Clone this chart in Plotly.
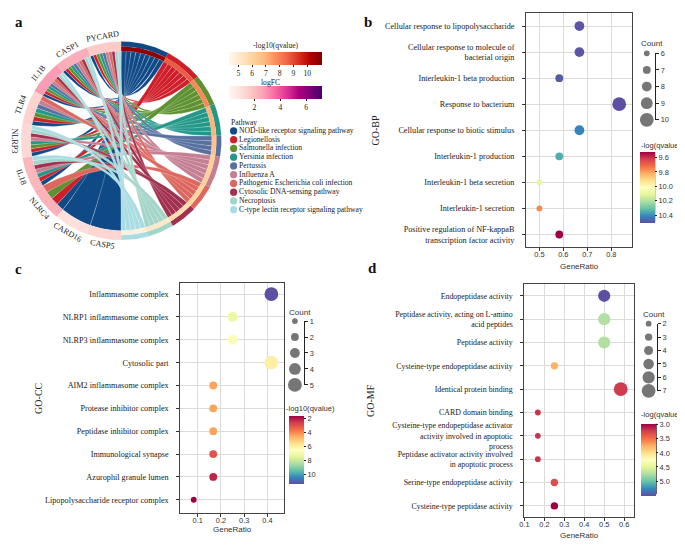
import numpy as np
import plotly.graph_objects as go
from plotly.colors import sample_colorscale

# The page body keeps the browser's default 8 px margin, so the figure is laid
# out in window pixels and shifted by that margin.
WIN_W, WIN_H = 685, 545
OFF = 8
W, H = WIN_W - OFF, WIN_H - OFF
SERIF = "Liberation Serif"
SANS = "Liberation Sans"

# ---------------- panel a data ----------------
genes = ["PYCARD", "CASP1", "IL1B", "TLR4", "NLRP3", "IL18", "NLRC4", "CARD16", "CASP5"]
gene_logfc = [1.6, 2.4, 2.8, 1.4, 1.2, 2.2, 2.3, 1.0, 1.3]
pathways = ["NOD-like receptor signaling pathway", "Legionellosis", "Salmonella infection",
            "Yersinia infection", "Pertussis", "Influenza A",
            "Pathogenic Escherichia coli infection", "Cytosolic DNA-sensing pathway",
            "Necroptosis", "C-type lectin receptor signaling pathway"]
pathway_colors = ["#0F4A87", "#CF1F2A", "#5E9131", "#23988A", "#58709F", "#C57F93",
                  "#DD675E", "#A2304F", "#A3D5C9", "#A9DCE3"]
pathway_qvalue = [10.8, 8.7, 7.8, 7.0, 6.6, 6.2, 6.0, 5.7, 5.2, 4.7]
pathway_genes = [
    ["PYCARD", "CASP1", "IL1B", "TLR4", "NLRP3", "IL18", "NLRC4", "CARD16", "CASP5"],
    ["PYCARD", "CASP1", "IL1B", "TLR4", "NLRP3", "IL18", "NLRC4"],
    ["PYCARD", "CASP1", "IL1B", "TLR4", "NLRP3", "NLRC4"],
    ["PYCARD", "CASP1", "IL1B", "TLR4", "NLRP3", "IL18"],
    ["PYCARD", "CASP1", "IL1B", "TLR4"],
    ["PYCARD", "CASP1", "IL1B", "TLR4", "NLRP3", "IL18"],
    ["PYCARD", "CASP1", "IL1B", "TLR4", "NLRC4"],
    ["PYCARD", "CASP1", "IL1B", "NLRP3", "IL18"],
    ["PYCARD", "CASP1", "IL1B", "NLRP3", "IL18"],
    ["PYCARD", "CASP1", "IL1B", "NLRP3", "IL18"],
]
q_range = [4.35, 11.1]
q_ticks = [5, 6, 7, 8, 9, 10]
fc_range = [0.06, 7.26]
fc_ticks = [2, 4, 6]

# ---------------- panel b data ----------------
bp_terms = ["Cellular response to lipopolysaccharide",
            "Cellular response to molecule of<br>bacterial origin",
            "Interleukin-1 beta production",
            "Response to bacterium",
            "Cellular response to biotic stimulus",
            "Interleukin-1 production",
            "Interleukin-1 beta secretion",
            "Interleukin-1 secretion",
            "Positive regulation of NF-kappaB<br>transcription factor activity"]
bp_ratio = [0.667, 0.667, 0.583, 0.833, 0.667, 0.583, 0.5, 0.5, 0.583]
bp_count = [8, 8, 7, 10, 8, 7, 6, 6, 7]
bp_q = [10.50, 10.50, 10.49, 10.51, 10.42, 10.35, 10.10, 9.76, 9.52]
bp_count_breaks = [6, 7, 8, 9, 10]
bp_q_ticks = [9.6, 9.8, 10.0, 10.2, 10.4]

# ---------------- panel c data ----------------
cc_terms = ["Inflammasome complex", "NLRP1 inflammasome complex", "NLRP3 inflammasome complex",
            "Cytosolic part", "AIM2 inflammasome complex", "Protease inhibitor complex",
            "Peptidase inhibitor complex", "Immunological synapse", "Azurophil granule lumen",
            "Lipopolysaccharide receptor complex"]
cc_ratio = [0.417, 0.25, 0.25, 0.417, 0.167, 0.167, 0.167, 0.167, 0.167, 0.083]
cc_count = [5, 3, 3, 5, 2, 2, 2, 2, 2, 1]
cc_q = [11.37, 7.2, 6.7, 6.0, 4.4, 4.4, 4.4, 3.0, 2.2, 1.62]
cc_count_breaks = [1, 2, 3, 4, 5]
cc_q_ticks = [2, 4, 6, 8, 10]

# ---------------- panel d data ----------------
mf_terms = ["Endopeptidase activity",
            "Peptidase activity, acting on L-amino<br>acid peptides",
            "Peptidase activity",
            "Cysteine-type endopeptidase activity",
            "Identical protein binding",
            "CARD domain binding",
            "Cysteine-type endopeptidase activator<br>activity involved in apoptotic<br>process",
            "Peptidase activator activity involved<br>in apoptotic process",
            "Serine-type endopeptidase activity",
            "Cysteine-type peptidase activity"]
mf_ratio = [0.5, 0.5, 0.5, 0.25, 0.583, 0.167, 0.167, 0.167, 0.25, 0.25]
mf_count = [6, 6, 6, 3, 7, 2, 2, 2, 3, 3]
mf_q = [5.52, 4.72, 4.72, 3.75, 3.20, 3.17, 3.17, 3.17, 3.30, 2.96]
mf_count_breaks = [2, 3, 4, 5, 6, 7]
mf_q_ticks = [3.0, 3.5, 4.0, 4.5, 5.0]


def fx(px):
    return (px - OFF) / W


def fy(py):
    return 1 - (py - OFF) / H


fig = go.Figure()
shapes = []
annotations = []

# ================= panel a : chord diagram =================
CX, CY, CR = 117.0, 139.0, 101.0     # centre and radius, window pixels
R_IN = 0.905
R_Q = 0.95
gene_span = 180.0 / len(genes)
total_links = sum(len(g) for g in pathway_genes)
unit = 180.0 / total_links
path_start = np.concatenate([[0.0], np.cumsum([len(g) * unit for g in pathway_genes])])


def pol(theta, r):
    t = np.radians(theta)
    return r * np.cos(t), r * np.sin(t)


def arc(a0, a1, r, n=12):
    th = np.radians(np.linspace(a0, a1, n))
    return list(r * np.cos(th)), list(r * np.sin(th))


def bez(p0, p1, n=40, k=0.1):
    c = ((p0[0] + p1[0]) / 2 * k, (p0[1] + p1[1]) / 2 * k)
    t = np.linspace(0, 1, n)
    x = (1 - t) ** 2 * p0[0] + 2 * (1 - t) * t * c[0] + t ** 2 * p1[0]
    y = (1 - t) ** 2 * p0[1] + 2 * (1 - t) * t * c[1] + t ** 2 * p1[1]
    return list(x), list(y)


def sector(a0, a1, r0, r1):
    xo, yo = arc(a0, a1, r1, 30)
    xi, yi = arc(a1, a0, r0, 30)
    return xo + xi + [xo[0]], yo + yi + [yo[0]]


gene_links = {g: sorted([j for j, pg in enumerate(pathway_genes) if g in pg], reverse=True) for g in genes}

for j, pg in enumerate(pathway_genes):
    gorder = sorted([genes.index(g) for g in pg], reverse=True)
    for g in pg:
        i = genes.index(g)
        order = gene_links[g]
        k = order.index(j)
        w = gene_span / len(order)
        phi0 = i * gene_span + k * w
        phi1 = phi0 + w
        gA0, gA1 = 90 + phi0, 90 + phi1
        m = gorder.index(i)
        psi0 = path_start[j] + m * unit
        psi1 = psi0 + unit
        pA0, pA1 = 90 - psi1, 90 - psi0
        x1, y1 = arc(gA0, gA1, R_IN)
        x2, y2 = bez(pol(gA1, R_IN), pol(pA0, R_IN))
        x3, y3 = arc(pA0, pA1, R_IN, 6)
        x4, y4 = bez(pol(pA1, R_IN), pol(gA0, R_IN))
        fig.add_trace(go.Scatter(x=x1 + x2 + x3 + x4, y=y1 + y2 + y3 + y4, mode="lines",
                                 fill="toself", fillcolor=pathway_colors[j],
                                 line=dict(color="rgba(255,255,255,0.7)", width=0.35),
                                 hoverinfo="skip", showlegend=False, xaxis="x", yaxis="y"))

fc_cols = sample_colorscale("RdPu", [(v - fc_range[0]) / (fc_range[1] - fc_range[0]) for v in gene_logfc])
for i, g in enumerate(genes):
    xs, ys = sector(90 + i * gene_span, 90 + (i + 1) * gene_span, R_IN, 1.0)
    fig.add_trace(go.Scatter(x=xs, y=ys, mode="lines", fill="toself", fillcolor=fc_cols[i],
                             line=dict(width=0), hoverinfo="skip", showlegend=False))
    phi = (i + 0.5) * gene_span
    lx, ly = pol(90 + phi, 1.065)
    tang = -phi if phi < 90 else 180 - phi
    annotations.append(dict(x=lx, y=ly, xref="x", yref="y", text=g, showarrow=False,
                            textangle=tang, xanchor="center", yanchor="middle",
                            font=dict(family=SERIF, size=8.2, color="#222")))

q_cols = sample_colorscale("OrRd", [(v - q_range[0]) / (q_range[1] - q_range[0]) for v in pathway_qvalue])
for j in range(len(pathways)):
    a0, a1 = 90 - path_start[j + 1], 90 - path_start[j]
    xs, ys = sector(a0, a1, R_Q, 1.0)
    fig.add_trace(go.Scatter(x=xs, y=ys, mode="lines", fill="toself", fillcolor=pathway_colors[j],
                             line=dict(width=0), hoverinfo="skip", showlegend=False))
    xs, ys = sector(a0, a1, R_IN, R_Q)
    fig.add_trace(go.Scatter(x=xs, y=ys, mode="lines", fill="toself", fillcolor=q_cols[j],
                             line=dict(width=0), hoverinfo="skip", showlegend=False))

mid_q = [pol(90 - (path_start[j] + path_start[j + 1]) / 2, 0.93) for j in range(len(pathways))]
fig.add_trace(go.Scatter(x=[p[0] for p in mid_q], y=[p[1] for p in mid_q], mode="markers",
                         marker=dict(color=pathway_qvalue, coloraxis="coloraxis", opacity=0, size=1),
                         hoverinfo="skip", showlegend=False))
mid_g = [pol(90 + (i + 0.5) * gene_span, 0.95) for i in range(len(genes))]
fig.add_trace(go.Scatter(x=[p[0] for p in mid_g], y=[p[1] for p in mid_g], mode="markers",
                         marker=dict(color=gene_logfc, coloraxis="coloraxis2", opacity=0, size=1),
                         hoverinfo="skip", showlegend=False))

fig.add_trace(go.Scatter(x=[0] * len(pathways), y=list(range(len(pathways))), mode="markers+text",
                         marker=dict(color=pathway_colors, size=7.2), text=pathways,
                         textposition="middle right", cliponaxis=False,
                         textfont=dict(family=SERIF, size=7.6, color="#222"),
                         hoverinfo="skip", showlegend=False, xaxis="x8", yaxis="y8"))
annotations.append(dict(x=fx(225.5), y=fy(120.3), xref="paper", yref="paper", text="Pathway",
                        showarrow=False, xanchor="left", yanchor="middle",
                        font=dict(family=SERIF, size=7.6, color="#222")))
annotations.append(dict(x=fx(272.5), y=fy(42.3), xref="paper", yref="paper", text="-log10(qvalue)",
                        showarrow=False, xanchor="center", yanchor="middle",
                        font=dict(family=SERIF, size=7.6, color="#222")))
annotations.append(dict(x=fx(267), y=fy(79.3), xref="paper", yref="paper", text="logFC",
                        showarrow=False, xanchor="center", yanchor="middle",
                        font=dict(family=SERIF, size=7.6, color="#222")))


def hbar(rng, ticks, scale, left, top, length, thick):
    return dict(colorscale=scale, cmin=rng[0], cmax=rng[1],
                colorbar=dict(orientation="h", x=fx(left), xanchor="left", y=fy(top), yanchor="top",
                              len=length, lenmode="pixels", thickness=thick, thicknessmode="pixels",
                              xpad=0, ypad=0, outlinewidth=0, ticks="outside", ticklen=2,
                              tickwidth=0.8, tickcolor="#222", tickvals=ticks,
                              tickfont=dict(family=SERIF, size=7.6, color="#222")))


# ================= dot plots =================
def size_of(c, breaks, dmin=5.8, dmax=13.8):
    return dmin + (c - breaks[0]) / (breaks[-1] - breaks[0]) * (dmax - dmin)


def vbar(vmin, vmax, ticks, left, top, length, thick, dec):
    return dict(colorscale="Spectral_r", cmin=-vmax, cmax=-vmin,
                colorbar=dict(x=fx(left), xanchor="left", y=fy(top), yanchor="top",
                              len=length, lenmode="pixels", thickness=thick, thicknessmode="pixels",
                              xpad=0, ypad=0, outlinewidth=0, ticks="outside", ticklen=2.5,
                              tickwidth=0.8, tickcolor="#222", tickvals=[-t for t in ticks],
                              ticktext=[f"{t:.{dec}f}" for t in ticks],
                              tickfont=dict(family=SANS, size=7.4, color="#333")))


panels = [
    dict(terms=bp_terms, ratio=bp_ratio, count=bp_count, q=bp_q, breaks=bp_count_breaks,
         qticks=bp_q_ticks, qrange=(9.52, 10.51), dec=1, ax="2", cax="coloraxis3", leg="5",
         plot=(525, 632, 9.3, 247), xr=[0.445, 0.888], xt=[0.5, 0.6, 0.7, 0.8], yr=[8.48, -0.49],
         cb=(640, 150.3, 71, 14.5), leg_box=(638, 655, 50, 117.7), ytitle="GO-BP", ytx=373,
         cbt="-log(qvalue)", cbt_pos=(638.5, 144), cnt_pos=(639, 40), xt_y=266.7, lab=8.2),
    dict(terms=cc_terms, ratio=cc_ratio, count=cc_count, q=cc_q, breaks=cc_count_breaks,
         qticks=cc_q_ticks, qrange=(1.62, 11.37), dec=0, ax="3", cax="coloraxis4", leg="6",
         plot=(176.7, 280.7, 284, 517.3), xr=[0.026, 0.470], xt=[0.1, 0.2, 0.3, 0.4], yr=[9.57, -0.47],
         cb=(285.7, 419, 68.3, 15), leg_box=(282.5, 301.5, 322.3, 387.3), ytitle="GO-CC", ytx=33,
         cbt="-log10(qvalue)", cbt_pos=(281, 411.7), cnt_pos=(284, 313.3), xt_y=534, lab=8.2),
    dict(terms=mf_terms, ratio=mf_ratio, count=mf_count, q=mf_q, breaks=mf_count_breaks,
         qticks=mf_q_ticks, qrange=(2.96, 5.52), dec=1, ax="4", cax="coloraxis5", leg="7",
         plot=(523.3, 633.3, 284.3, 521.7), xr=[0.1, 0.648], xt=[0.1, 0.2, 0.3, 0.4, 0.5, 0.6],
         yr=[9.48, -0.52], cb=(641, 426.7, 71.6, 15), leg_box=(640, 656.7, 325, 393.3),
         ytitle="GO-MF", ytx=368.3, cbt="-log(qvalue)", cbt_pos=(638.5, 417.7), cnt_pos=(640.5, 316),
         xt_y=540.5, lab=7.9),
]

layout_axes = {}
coloraxes = {}
for p in panels:
    ax = p["ax"]
    L, R, T, B = p["plot"]
    fig.add_trace(go.Scatter(x=p["ratio"], y=p["terms"], mode="markers",
                             marker=dict(size=[size_of(c, p["breaks"]) for c in p["count"]],
                                         color=[-v for v in p["q"]], coloraxis=p["cax"],
                                         line=dict(width=0), opacity=1),
                             hoverinfo="skip", showlegend=False, xaxis="x" + ax, yaxis="y" + ax))
    layout_axes["xaxis" + ax] = dict(domain=[fx(L), fx(R)], range=p["xr"], anchor="y" + ax,
                                     tickvals=p["xt"], ticks="outside", ticklen=3, tickwidth=0.8,
                                     tickcolor="#333", showline=True, mirror=True, linecolor="#444",
                                     linewidth=1.3, showgrid=True, gridcolor="#DEDAD7", gridwidth=0.9,
                                     zeroline=False, ticklabelstandoff=-3,
                                     tickfont=dict(family=SANS, size=7.4, color="#333"))
    layout_axes["yaxis" + ax] = dict(domain=[fy(B), fy(T)], range=p["yr"], anchor="x" + ax,
                                     type="category", categoryorder="array", categoryarray=p["terms"],
                                     ticks="outside", ticklen=3, tickwidth=0.8, tickcolor="#333",
                                     showline=True, mirror=True, linecolor="#444", linewidth=1.3,
                                     showgrid=True, gridcolor="#DEDAD7", gridwidth=0.9,
                                     ticklabelstandoff=6, zeroline=False,
                                     tickfont=dict(family=SERIF, size=p["lab"], color="#1a1a1a"))
    cb_left, cb_top, cb_len, cb_thick = p["cb"]
    coloraxes[p["cax"]] = vbar(p["qrange"][0], p["qrange"][1], p["qticks"], cb_left, cb_top,
                                cb_len, cb_thick, p["dec"])
    shapes.append(dict(type="line", xref="paper", yref="paper", x0=fx(cb_left + cb_thick),
                       x1=fx(cb_left + cb_thick), y0=fy(cb_top), y1=fy(cb_top + cb_len),
                       line=dict(color="#222", width=1)))
    lg = p["leg"]
    lx0, lx1, ly0, ly1 = p["leg_box"]
    fig.add_trace(go.Scatter(x=[0] * len(p["breaks"]), y=p["breaks"], mode="markers",
                             marker=dict(size=[size_of(c, p["breaks"]) for c in p["breaks"]],
                                         color="#3C3C3C", line=dict(width=0)), cliponaxis=False,
                             hoverinfo="skip", showlegend=False, xaxis="x" + lg, yaxis="y" + lg))
    layout_axes["xaxis" + lg] = dict(domain=[fx(lx0), fx(lx1)], range=[-1, 1], visible=False,
                                     anchor="y" + lg)
    layout_axes["yaxis" + lg] = dict(domain=[fy(ly1), fy(ly0)], range=[p["breaks"][-1], p["breaks"][0]],
                                     anchor="x" + lg, side="right", showline=True, linecolor="#222",
                                     linewidth=1, ticks="outside", ticklen=3, tickwidth=0.8,
                                     tickcolor="#222", tickvals=p["breaks"], showgrid=False,
                                     zeroline=False, tickfont=dict(family=SANS, size=7.4, color="#333"))
    annotations.append(dict(x=fx(p["ytx"]), y=fy((T + B) / 2), xref="paper", yref="paper",
                            text=p["ytitle"], textangle=-90, showarrow=False, xanchor="center",
                            yanchor="middle", font=dict(family=SERIF, size=10, color="#222")))
    annotations.append(dict(x=fx((L + R) / 2), y=fy(p["xt_y"]), xref="paper", yref="paper",
                            text="GeneRatio", showarrow=False, xanchor="center", yanchor="middle",
                            font=dict(family=SANS, size=8, color="#333")))
    annotations.append(dict(x=fx(p["cnt_pos"][0]), y=fy(p["cnt_pos"][1]), xref="paper", yref="paper",
                            text="Count", showarrow=False, xanchor="left", yanchor="middle",
                            font=dict(family=SANS, size=8, color="#333")))
    annotations.append(dict(x=fx(p["cbt_pos"][0]), y=fy(p["cbt_pos"][1]), xref="paper", yref="paper",
                            text=p["cbt"], showarrow=False, xanchor="left", yanchor="middle",
                            font=dict(family=SANS, size=7.6, color="#333")))

for letter, (lx, ly) in zip(["a", "b", "c", "d"], [(OFF, OFF), (360, OFF), (OFF, 259), (364, 258)]):
    annotations.append(dict(x=fx(lx), y=fy(ly), xref="paper", yref="paper", text=f"<b>{letter}</b>",
                            showarrow=False, xanchor="left", yanchor="top",
                            font=dict(family=SERIF, size=15, color="#111")))

for top in (48.3, 83.3):
    shapes.append(dict(type="line", xref="paper", yref="paper", x0=fx(226), x1=fx(319),
                       y0=fy(top + 12.7), y1=fy(top + 12.7), line=dict(color="#222", width=0.8)))

fig.update_layout(
    width=W, height=H, autosize=False, margin=dict(l=0, r=0, t=0, b=0),
    paper_bgcolor="white", plot_bgcolor="white", showlegend=False,
    xaxis=dict(domain=[fx(OFF), fx(248)], range=[(OFF - CX) / CR, (248 - CX) / CR], visible=False),
    yaxis=dict(domain=[fy(250), fy(28)], range=[(CY - 250) / CR, (CY - 28) / CR], visible=False),
    xaxis8=dict(domain=[fx(226), fx(234.5)], range=[-1, 1], visible=False, anchor="y8"),
    yaxis8=dict(domain=[fy(213.5), fy(124.5)], range=[len(pathways) - 0.5, -0.5], visible=False,
                anchor="x8"),
    coloraxis=hbar(q_range, q_ticks, "OrRd", 226, 48.3, 93, 12.7),
    coloraxis2=hbar(fc_range, fc_ticks, "RdPu", 226, 83.3, 93, 12.7),
    shapes=shapes, annotations=annotations,
    **layout_axes, **coloraxes,
)

fig.write_html("out.html")
